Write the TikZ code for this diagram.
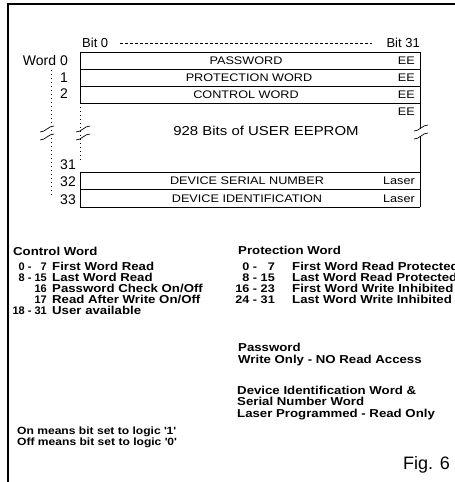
\documentclass[tikz,border=0pt]{standalone}
\usepackage{fontspec}
\setmainfont{Liberation Sans}
\newfontfamily\widefont[FakeStretch=1.15]{Liberation Sans}
\begin{document}
\begin{tikzpicture}[x=1bp,y=-1bp,
  lbl/.style={inner sep=0, anchor=base east, font=\fontsize{14bp}{14bp}\selectfont},
  bitlbl/.style={inner sep=0, font=\fontsize{13bp}{13bp}\selectfont},
  boxtxt/.style={inner sep=0, anchor=base, font=\widefont\fontsize{11bp}{11bp}\selectfont},
  eetxt/.style={inner sep=0, anchor=base east, font=\widefont\fontsize{11bp}{11bp}\selectfont},
  bigtxt/.style={inner sep=0, anchor=base, font=\widefont\fontsize{13bp}{13bp}\selectfont},
  bldw/.style={inner sep=0, anchor=base west, font=\widefont\bfseries\fontsize{11.5bp}{11.5bp}\selectfont},
  blde/.style={inner sep=0, anchor=base east, font=\widefont\bfseries\fontsize{11bp}{11bp}\selectfont},
  bldn/.style={inner sep=0, anchor=base east, font=\bfseries\fontsize{11bp}{11bp}\selectfont},
  note/.style={inner sep=0, anchor=base west, font=\widefont\bfseries\fontsize{10.5bp}{10.5bp}\selectfont},
  figlbl/.style={inner sep=0, anchor=base east, font=\fontsize{18bp}{18bp}\selectfont},
  frame/.style={line width=2.3bp},
  cell/.style={line width=0.7bp},
  dotv/.style={line width=0.7bp, dash pattern=on 1.2bp off 2.8bp},
  dashh/.style={line width=0.6bp, dash pattern=on 2.5bp off 2.5bp},
  brk/.style={line width=0.7bp}
]
\useasboundingbox (0,0) rectangle (455,482);
\clip (0,0) rectangle (455,482);

% frame
\draw[frame] (8,482) -- (8,4) -- (455,4);

% bit header
\node[bitlbl, anchor=base west] (b0) at (82,47.7) {Bit 0};
\node[bitlbl, anchor=base east] (b31) at (420,47.7) {Bit 31};
\draw[dashh] (120,43) -- (372,43);

% memory cells
\draw[cell] (80,52) -- (420,52);
\draw[cell] (80,69) -- (420,69);
\draw[cell] (80,86) -- (420,86);
\draw[cell] (80,103) -- (420,103);
\draw[cell] (80,52) -- (80,103);
\draw[cell] (420,52) -- (420,128);
\draw[cell] (420,136) -- (420,207);
\draw[dotv] (80,103) -- (80,163);
\draw[cell] (80,172) -- (420,172);
\draw[cell] (80,189.5) -- (420,189.5);
\draw[cell] (80,207) -- (420,207);
\draw[cell] (80,172) -- (80,207);
\draw[dotv] (51,70) -- (51,198);

% break marks
\foreach \cx/\cy in {47/133, 83/133, 421/132}{
  \draw[brk] (\cx-7,\cy-1) .. controls (\cx-1,\cy-1) and (\cx+1,\cy-7) .. (\cx+7,\cy-7);
  \draw[brk] (\cx-7,\cy+7) .. controls (\cx-1,\cy+7) and (\cx+1,\cy+1) .. (\cx+7,\cy+1);
}

% word labels
\node[lbl] (w0) at (68,65.5) {Word 0};
\node[lbl] (w1) at (68,82.5) {1};
\node[lbl] (w2) at (68,98.5) {2};
\node[lbl] (w31) at (76,170) {31};
\node[lbl] (w32) at (76,187) {32};
\node[lbl] (w33) at (76,204) {33};

% cell texts
\node[boxtxt] (pw) at (246,64.5) {PASSWORD};
\node[boxtxt] (pr) at (249,81.5) {PROTECTION WORD};
\node[boxtxt] (cw) at (246,98.5) {CONTROL WORD};
\node[bigtxt] (ue) at (266,135.7) {928 Bits of USER EEPROM};
\node[boxtxt] (sn) at (247,185) {DEVICE SERIAL NUMBER};
\node[boxtxt] (di) at (247,202) {DEVICE IDENTIFICATION};
\node[eetxt] (e0) at (415,64.5) {EE};
\node[eetxt] (e1) at (415,81.5) {EE};
\node[eetxt] (e2) at (415,98.5) {EE};
\node[eetxt] (e3) at (415,116) {EE};
\node[eetxt] (l32) at (415,185) {Laser};
\node[eetxt] (l33) at (415,202) {Laser};

% control word
\node[bldw] (cwt) at (13,255) {Control Word};
\node[bldn] (cn1) at (47,270) {0 -\hphantom{1} 7};
\node[bldw] (cd1) at (52,270) {First Word Read};
\node[bldn] (cn2) at (47,281) {8 - 15};
\node[bldw] (cd2) at (52,281) {Last Word Read};
\node[bldn] (cn3) at (47,292) {16};
\node[bldw] (cd3) at (52,292) {Password Check On/Off};
\node[bldn] (cn4) at (47,303) {17};
\node[bldw] (cd4) at (52,303) {Read After Write On/Off};
\node[bldn] (cn5) at (47,314) {18 - 31};
\node[bldw] (cd5) at (52,314) {User available};

% protection word
\node[bldw] (pwt) at (238,254) {Protection Word};
\node[blde] (pn1) at (275,270) {0 -\hphantom{1} 7};
\node[bldw] (pd1) at (292,270) {First Word Read Protected};
\node[blde] (pn2) at (275,281) {8 - 15};
\node[bldw] (pd2) at (292,281) {Last Word Read Protected};
\node[blde] (pn3) at (275,292) {16 - 23};
\node[bldw] (pd3) at (292,292) {First Word Write Inhibited};
\node[blde] (pn4) at (275,303) {24 - 31};
\node[bldw] (pd4) at (292,303) {Last Word Write Inhibited};

% password
\node[bldw] (pst) at (238,351.5) {Password};
\node[bldw] (psd) at (238,363) {Write Only - NO Read Access};

% device id
\node[bldw] (dv1) at (237,394.5) {Device Identification Word \&};
\node[bldw] (dv2) at (237,405.5) {Serial Number Word};
\node[bldw] (dv3) at (237,417) {Laser Programmed - Read Only};

% notes
\node[note] (on) at (17,434.5) {On means bit set to logic \textquotesingle 1\textquotesingle};
\node[note] (off) at (17,445) {Off means bit set to logic \textquotesingle 0\textquotesingle};

\node[figlbl] (fig) at (450,469.5) {Fig. 6};
\end{tikzpicture}
\end{document}
